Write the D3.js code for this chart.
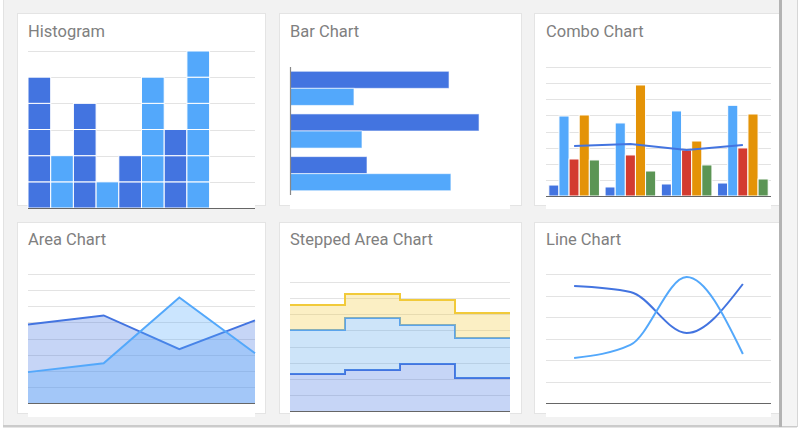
<!DOCTYPE html>
<html><head><meta charset="utf-8">
<script src="https://cdn.jsdelivr.net/npm/d3@7"></script>
<style>html,body{margin:0;padding:0;background:#fff;overflow:hidden}</style>
</head><body>
<script>
// ---------------- DATA ----------------
const cardTitles = ['Histogram','Bar Chart','Combo Chart','Area Chart','Stepped Area Chart','Line Chart'];

const histBins = [5,2,4,1,2,5,3,6];
const histSeries = [0,1,0,1,0,1,0,1];
const histTicks = [0,1,2,3,4,5,6];

const barCategories = ['2014','2015','2016'];
const barSales = [1012,1203,490];
const barExpenses = [407,458,1024];

const comboCategories = ['2004/05','2005/06','2006/07','2007/08'];
const comboBolivia = [136,112,149,161];
const comboEcuador = [992,906,1055,1125];
const comboMadagascar = [459,509,571,596];
const comboPNG = [1005,1377,682,1017];
const comboRwanda = [447,310,385,211];
const comboAverage = [620,645,571,633];
const comboTicks = [0,200,400,600,800,1000,1200,1400,1600];

const areaCategories = ['2013','2014','2015','2016'];
const areaSales = [975,1086,667,1025];
const areaExpenses = [383,494,1309,617];
const areaTicks = [0,200,400,600,800,1000,1200,1400,1600];

const stepCategories = ['A','B','C','D'];
const stepSeries1 = [229,254,291,205];
const stepSeries2 = [273,322,242,248];
const stepSeries3 = [155,149,155,155];
const stepTicks = [0,100,200,300,400,500,600,700,800];

const lineCategories = ['2004','2005','2006','2007'];
const lineSales = [1088,1033,651,1107];
const lineExpenses = [419,540,1172,456];
const lineTicks = [0,200,400,600,800,1000,1200];

// ---------------- STYLE ----------------
const C = {dark:'#4374E0', light:'#53A8FB', red:'#D33B30', orange:'#E49307', green:'#5C9555', yellow:'#F1CA3A',
  grid:'#e3e3e3', base:'#666', title:'#808080'};

const svg = d3.select('body').append('svg').attr('width',800).attr('height',431);
svg.append('rect').attr('width',800).attr('height',431).attr('fill','#fff');
svg.append('rect').attr('x',3).attr('y',0).attr('width',794).attr('height',426).attr('fill','#f2f2f2');
svg.append('rect').attr('x',3).attr('y',0).attr('width',1).attr('height',426).attr('fill','#e2e2e2');
svg.append('rect').attr('x',3).attr('y',425).attr('width',794).attr('height',2.5).attr('fill','#cbcbcb');
svg.append('rect').attr('x',782).attr('y',0).attr('width',15).attr('height',426).attr('fill','#f4f4f4');
svg.append('rect').attr('x',797).attr('y',0).attr('width',1).attr('height',427).attr('fill','#d6d6d6');

const cards = [
  {x:17,y:13,w:248,h:192,px0:28,px1:255,tb:37},
  {x:279,y:13,w:242,h:192,px0:290,px1:510,tb:37},
  {x:534,y:13,w:245,h:192,px0:546,px1:771,tb:37},
  {x:17,y:222,w:248,h:191,px0:28,px1:255,tb:245},
  {x:279,y:222,w:242,h:191,px0:290,px1:510,tb:245},
  {x:534,y:222,w:245,h:191,px0:546,px1:771,tb:245}
];
const stripH = [4,4,4,4,11,4];
cards.forEach((c,i)=>{
  svg.append('rect').attr('x',c.x+0.5).attr('y',c.y+0.5).attr('width',c.w).attr('height',c.h)
    .attr('fill','#fff').attr('stroke','#e4e4e4');
  svg.append('rect').attr('x',c.px0).attr('y',c.y+c.h).attr('width',c.px1-c.px0).attr('height',stripH[i]).attr('fill','#fff');
  svg.append('text').attr('x',c.px0).attr('y',c.tb).text(cardTitles[i])
    .attr('font-family','Roboto, "Noto Sans", sans-serif').attr('font-size',16.5).attr('fill',C.title);
});
svg.append('rect').attr('x',779).attr('y',0).attr('width',3).attr('height',427).attr('fill','#b3b3b3');

function grid(g, y, ticks, x0, x1){
  g.selectAll(null).data(ticks.slice(1)).enter().append('line')
    .attr('x1',x0).attr('x2',x1).attr('y1',d=>Math.round(y(d))+0.5).attr('y2',d=>Math.round(y(d))+0.5)
    .attr('stroke',C.grid).attr('stroke-width',1);
}
function baseline(g, y, x0, x1){
  g.append('line').attr('x1',x0).attr('x2',x1).attr('y1',Math.round(y(0))+0.5).attr('y2',Math.round(y(0))+0.5)
    .attr('stroke',C.base).attr('stroke-width',1.2);
}

// ---------- Histogram ----------
{
  const g = svg.append('g');
  const x = d3.scaleBand().domain(d3.range(10)).range([28,255]);
  const y = d3.scaleLinear().domain([0,6]).range([208,51]);
  grid(g,y,histTicks,28,255);
  histBins.forEach((n,i)=>{
    g.selectAll(null).data(d3.range(n)).enter().append('rect')
      .attr('x',x(i)).attr('width',x.bandwidth())
      .attr('y',k=>y(k+1)).attr('height',k=>y(k)-y(k+1))
      .attr('fill',histSeries[i]===0?C.dark:C.light).attr('stroke','#fff').attr('stroke-width',1);
  });
  baseline(g,y,28,255);
}

// ---------- Bar chart ----------
{
  const g = svg.append('g');
  const y = d3.scaleBand().domain(barCategories).range([67,195]).paddingInner(0.2).paddingOuter(0.1);
  const x = d3.scaleLinear().domain([0,1400]).range([290,510]);
  const sub = d3.scaleBand().domain([0,1]).range([0,y.bandwidth()]);
  barCategories.forEach((c,i)=>{
    [barSales[i],barExpenses[i]].forEach((v,j)=>{
      g.append('rect').attr('x',x(0)).attr('y',y(c)+sub(j)).attr('width',x(v)-x(0)).attr('height',sub.bandwidth())
        .attr('fill',j===0?C.dark:C.light).attr('stroke','#fff').attr('stroke-opacity',0.6).attr('stroke-width',1);
    });
  });
  g.append('line').attr('x1',290.5).attr('x2',290.5).attr('y1',67).attr('y2',195).attr('stroke','#888').attr('stroke-width',1.2);
}

// ---------- Combo chart ----------
{
  const g = svg.append('g');
  const x = d3.scaleBand().domain(comboCategories).range([546,771]).paddingInner(0.1).paddingOuter(0.05);
  const y = d3.scaleLinear().domain([0,1600]).range([196,67]);
  grid(g,y,comboTicks,546,771);
  const series = [comboBolivia,comboEcuador,comboMadagascar,comboPNG,comboRwanda];
  const cols = [C.dark,C.light,C.red,C.orange,C.green];
  const sub = d3.scaleBand().domain(d3.range(5)).range([0,x.bandwidth()]);
  comboCategories.forEach((c,i)=>{
    series.forEach((s,j)=>{
      g.append('rect').attr('x',x(c)+sub(j)).attr('width',sub.bandwidth()).attr('y',y(s[i])).attr('height',y(0)-y(s[i]))
        .attr('fill',cols[j]).attr('stroke','#fff').attr('stroke-width',1);
    });
  });
  baseline(g,y,546,771);
  const line = d3.line().x((d,i)=>x(comboCategories[i])+x.bandwidth()/2).y(d=>y(d));
  g.append('path').attr('d',line(comboAverage)).attr('fill','none').attr('stroke',C.dark).attr('stroke-width',2);
}

// ---------- Area chart ----------
{
  const g = svg.append('g');
  const x = d3.scalePoint().domain(areaCategories).range([28,255]);
  const y = d3.scaleLinear().domain([0,1600]).range([403,274]);
  grid(g,y,areaTicks,28,255);
  [[areaSales,C.dark],[areaExpenses,C.light]].forEach(([s,col])=>{
    const area = d3.area().x((d,i)=>x(areaCategories[i])).y0(y(0)).y1(d=>y(d));
    const line = d3.line().x((d,i)=>x(areaCategories[i])).y(d=>y(d));
    g.append('path').attr('d',area(s)).attr('fill',col).attr('fill-opacity',0.3);
    g.append('path').attr('d',line(s)).attr('fill','none').attr('stroke',col).attr('stroke-width',2);
  });
  baseline(g,y,28,255);
}

// ---------- Stepped area chart ----------
{
  const g = svg.append('g');
  const x = d3.scaleBand().domain(stepCategories).range([290,510]);
  const y = d3.scaleLinear().domain([0,800]).range([411,282]);
  grid(g,y,stepTicks,290,510);
  const rows = stepCategories.map((c,i)=>({c, a:stepSeries1[i], b:stepSeries2[i], d:stepSeries3[i]}));
  const stack = d3.stack().keys(['a','b','d'])(rows);
  const cols = [C.dark,'#5BA4EC',C.yellow];
  stack.forEach((layer,k)=>{
    const pts = [];
    layer.forEach((p,i)=>{
      const c = stepCategories[i];
      pts.push({x:x(c),y0:p[0],y1:p[1]});
      pts.push({x:x(c)+x.bandwidth(),y0:p[0],y1:p[1]});
    });
    const area = d3.area().x(d=>d.x).y0(d=>y(d.y0)).y1(d=>y(d.y1));
    const line = d3.line().x(d=>d.x).y(d=>y(d.y1));
    g.append('path').attr('d',area(pts)).attr('fill',cols[k]).attr('fill-opacity',0.3);
    g.append('path').attr('d',line(pts)).attr('fill','none').attr('stroke',cols[k]).attr('stroke-width',2);
  });
  baseline(g,y,290,510);
}

// ---------- Line chart ----------
{
  const g = svg.append('g');
  const x = d3.scalePoint().domain(lineCategories).range([546,771]).padding(0.5);
  const y = d3.scaleLinear().domain([0,1200]).range([403,274]);
  grid(g,y,lineTicks,546,771);
  baseline(g,y,546,771);
  const line = d3.line().x((d,i)=>x(lineCategories[i])).y(d=>y(d)).curve(d3.curveMonotoneX);
  g.append('path').attr('d',line(lineSales)).attr('fill','none').attr('stroke',C.dark).attr('stroke-width',2);
  g.append('path').attr('d',line(lineExpenses)).attr('fill','none').attr('stroke',C.light).attr('stroke-width',2);
}
</script>
</body></html>
